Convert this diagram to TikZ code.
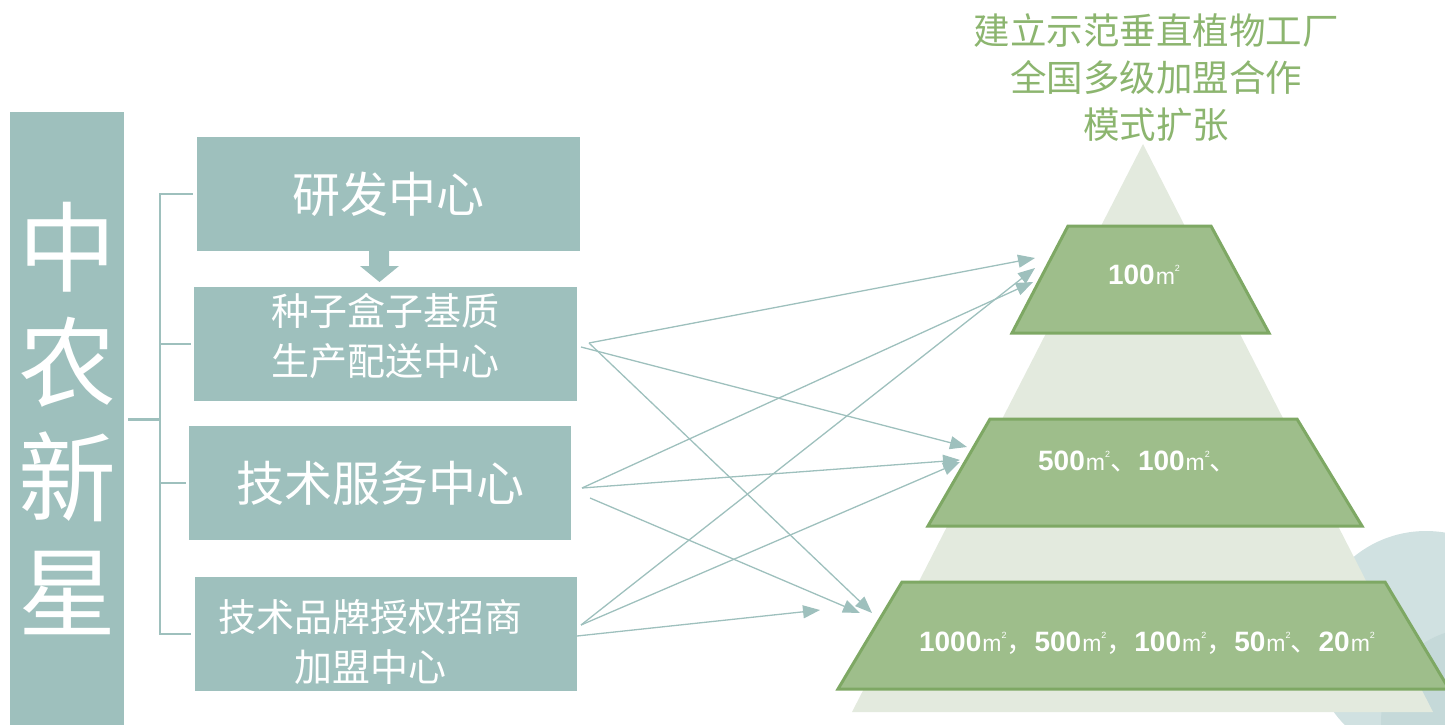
\documentclass[tikz,border=0pt]{standalone}
\usepackage{fontspec}
\setmainfont{Liberation Sans}
\newfontfamily\cjk{Noto Sans CJK SC}
\usetikzlibrary{arrows.meta}
\definecolor{boxc}{HTML}{9EC0BD}
\definecolor{titlec}{HTML}{8CB56F}
\definecolor{tric}{HTML}{E3EADE}
\definecolor{trapf}{HTML}{9EBE8B}
\definecolor{trapd}{HTML}{7EA864}
\definecolor{circa}{HTML}{D0E1E1}
\definecolor{circb}{HTML}{C5D9D9}
\newcommand\sqmeter{\kern1pt{\fontsize{23}{23}\selectfont\mdseries m}\raisebox{13pt}{\fontsize{9}{9}\selectfont\mdseries 2}}
\newcommand\cjkp[1]{{\cjk\mdseries #1}}
\tikzset{
  boxnode/.style={rectangle, fill=boxc, inner sep=0pt, minimum width=383pt, minimum height=114pt},
  lbl/.style={text=white, align=center, inner sep=0pt},
  big/.style={font=\cjk\fontsize{48}{56}\selectfont},
  small/.style={font=\cjk\fontsize{38}{50}\selectfont},
  brk/.style={draw=boxc, line width=2.5pt},
  arr/.style={draw=boxc, line width=1.3pt, -{Triangle[length=17pt, width=13pt]}},
  trap/.style={fill=trapf, draw=trapd, line width=3pt, line join=miter},
  num/.style={text=white, inner sep=0pt, font=\fontsize{28}{30}\selectfont\bfseries},
}
\begin{document}
\begin{tikzpicture}[x=1pt, y=-1pt]
\useasboundingbox (0,0) rectangle (1445,725);
\clip (0,0) rectangle (1445,725);

% background circles
\fill[circa] (1426,645) circle (114);
\fill[circb] (1475,722) circle (94);

% pyramid
\fill[tric] (1143,144) -- (852,712) -- (1433,712) -- cycle;

% title
\node[text=titlec, align=center, inner sep=0pt, font=\cjk\fontsize{36.5}{47}\selectfont] (title) at (1156,78)
  {建立示范垂直植物工厂\\全国多级加盟合作\\模式扩张};

% trapezoids
\filldraw[trap] (1068,226) -- (1211,226) -- (1269,333) -- (1012,333) -- cycle;
\filldraw[trap] (990,419) -- (1297,419) -- (1362,526) -- (928,526) -- cycle;
\filldraw[trap] (902,582) -- (1385,582) -- (1449,689) -- (838,689) -- cycle;
\node[num] (n1) at (1144,275) {100\sqmeter};
\node[num] (n2) at (1138,462) {500\sqmeter\cjkp{、}100\sqmeter\cjkp{、}};
\node[num] (n3) at (1147,643) {1000\sqmeter\cjkp{，}500\sqmeter\cjkp{，}100\sqmeter\cjkp{，}50\sqmeter\cjkp{、}20\sqmeter};

% left bar
\node[fill=boxc, minimum width=114pt, minimum height=613pt, inner sep=0pt, text=white, align=center,
  font=\cjk\fontsize{98}{115}\selectfont] (bar) at (67,418.5) {中\\农\\新\\星};

% boxes
\node[boxnode] (rd) at (388.5,194) {};
\node[lbl, big] (rdt) at (388.5,194) {研发中心};
\node[boxnode] (seed) at (385.5,344) {};
\node[lbl, small] (seedt) at (385.5,336) {种子盒子基质\\生产配送中心};
\node[boxnode, minimum width=382pt] (tech) at (380,483) {};
\node[lbl, big] (techt) at (380,483) {技术服务中心};
\node[boxnode, minimum width=382pt] (brand) at (386,634) {};
\node[lbl, small] (brandt) at (370,642) {技术品牌授权招商\\加盟中心};

% down block arrow
\fill[boxc] (369,251) -- (389,251) -- (389,266) -- (399,266) -- (379.5,282) -- (360,266) -- (369,266) -- cycle;

% bracket
\coordinate (jn) at (160,419.5);
\draw[brk] ([xshift=4pt]bar.east |- jn) -- (jn);
\draw[brk] ([xshift=-4pt]rd.west) -| (jn);
\draw[brk] ([xshift=-3pt]seed.west) -| (jn);
\draw[brk] ([xshift=-3pt]tech.west) -| (jn);
\draw[brk] ([xshift=-4pt]brand.west) -| (jn);

% arrow sources
\coordinate (s1) at (589,343);
\coordinate (s2) at (581,347);
\coordinate (t1) at (582,488);
\coordinate (t2) at (590,498);
\coordinate (b1) at (581,625);
\coordinate (b2) at (577,636);
% arrow targets
\coordinate (T1) at (1035,258);
\coordinate (T2) at (1035,268);
\coordinate (T3) at (1033,282);
\coordinate (M1) at (967,447);
\coordinate (M2) at (960,460);
\coordinate (M3) at (960,462);
\coordinate (B1) at (872,613);
\coordinate (B2) at (860,613);
\coordinate (L) at (820,610);

\draw[arr] (s1) -- (T1);
\draw[arr] (s1) -- (B1);
\draw[arr] (s2) -- (M1);
\draw[arr] (t1) -- (T3);
\draw[arr] (t1) -- (M2);
\draw[arr] (t2) -- (B2);
\draw[arr] (b1) -- (T2);
\draw[arr] (b1) -- (M3);
\draw[arr] (b2) -- (L);
\end{tikzpicture}
\end{document}
